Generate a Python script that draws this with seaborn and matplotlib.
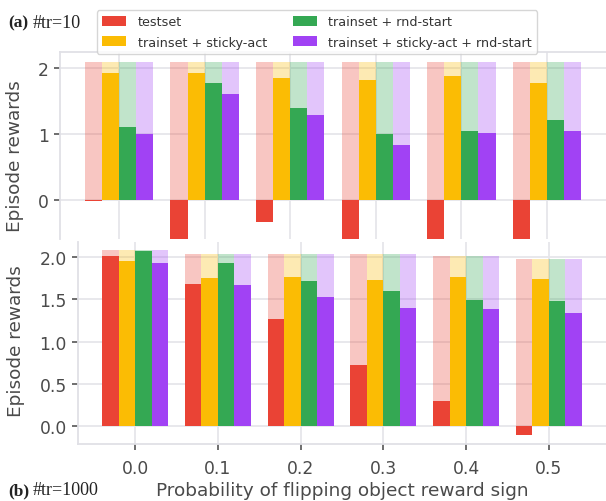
import numpy as np
import pandas as pd
import matplotlib
matplotlib.use("Agg")
import matplotlib.pyplot as plt
import seaborn as sns

probs = ["0.0", "0.1", "0.2", "0.3", "0.4", "0.5"]
methods = ["testset", "trainset + sticky-act", "trainset + rnd-start",
           "trainset + sticky-act + rnd-start"]
colors = ["#EA4335", "#FBBC04", "#34A853", "#A142F4"]

# (a) #tr=10
top_testset = [-0.01, -0.90, -0.33, -0.90, -0.90, -0.90]
top_sticky = [1.92, 1.92, 1.85, 1.82, 1.88, 1.77]
top_rnd = [1.11, 1.77, 1.39, 1.00, 1.05, 1.21]
top_both = [1.00, 1.61, 1.29, 0.83, 1.02, 1.05]
top_ref = [2.09, 2.09, 2.09, 2.09, 2.09, 2.09]

# (b) #tr=1000
bot_testset = [2.02, 1.68, 1.27, 0.72, 0.30, -0.11]
bot_sticky = [1.96, 1.75, 1.76, 1.73, 1.76, 1.74]
bot_rnd = [2.07, 1.93, 1.72, 1.60, 1.49, 1.48]
bot_both = [1.93, 1.67, 1.53, 1.40, 1.39, 1.34]
bot_ref = [2.09, 2.04, 2.04, 2.04, 2.02, 1.98]


def long_form(series, ref):
    rows = []
    for m, vals in zip(methods, series):
        for p, v, r in zip(probs, vals, ref):
            rows.append({"p": p, "method": m, "value": v, "ref": r})
    return pd.DataFrame(rows)


df_top = long_form([top_testset, top_sticky, top_rnd, top_both], top_ref)
df_bot = long_form([bot_testset, bot_sticky, bot_rnd, bot_both], bot_ref)

sns.set_theme(style="whitegrid")
plt.rcParams["font.family"] = ["DejaVu Sans"]
grid_c = "#E6E6EB"
text_c = "#4a4a4a"
plt.rcParams.update({
    "grid.color": grid_c,
    "grid.linewidth": 1.3,
    "axes.edgecolor": "#E0E0E6",
    "axes.linewidth": 1.3,
    "xtick.color": text_c,
    "ytick.color": text_c,
    "xtick.labelcolor": text_c,
    "ytick.labelcolor": text_c,
    "axes.labelcolor": text_c,
})

W, H = 606, 502
fig = plt.figure(figsize=(W / 100, H / 100), dpi=100)
ax_top = fig.add_axes([60 / W, 1 - 240 / H, 1 - 60 / W, (240 - 53) / H])
ax_bot = fig.add_axes([78 / W, 1 - 445 / H, 1 - 78 / W, (445 - 243) / H])

for ax, df, leg in [(ax_top, df_top, True), (ax_bot, df_bot, False)]:
    sns.barplot(data=df, x="p", y="ref", hue="method", order=probs,
                hue_order=methods, palette=colors, saturation=1, alpha=0.3,
                linewidth=0, errorbar=None, ax=ax, legend=False)
    sns.barplot(data=df, x="p", y="value", hue="method", order=probs,
                hue_order=methods, palette=colors, saturation=1,
                linewidth=0, errorbar=None, ax=ax, legend=leg)
    ax.set_xlim(-0.69, 5.69)
    ax.tick_params(axis="y", which="major", left=True, length=4, width=1.2,
                   labelsize=12.3, pad=4, color="#555555")
    ax.set_ylabel("Episode rewards", fontsize=13.3)
    ax.grid(True, axis="both")

handles, labels = ax_top.get_legend_handles_labels()
ax_top.get_legend().remove()

# top panel
ax_top.set_ylim(-0.59, 2.24)
ax_top.set_yticks([0, 1, 2])
ax_top.set_yticklabels(["0", "1", "2"])
ax_top.set_xlabel("")
ax_top.tick_params(axis="x", bottom=False, labelbottom=False)
for s in ["bottom", "right"]:
    ax_top.spines[s].set_visible(False)
ax_top.spines["top"].set_visible(True)
ax_top.spines["left"].set_visible(True)
ax_top.yaxis.set_label_coords(-0.066, 0.449)

# bottom panel
ax_bot.set_ylim(-0.213, 2.18)
ax_bot.set_yticks([0.0, 0.5, 1.0, 1.5, 2.0])
ax_bot.set_yticklabels(["0.0", "0.5", "1.0", "1.5", "2.0"])
ax_bot.tick_params(axis="x", bottom=True, length=4, width=1.2,
                   labelsize=12.3, pad=6.5, color="#555555")
ax_bot.set_xlabel("Probability of flipping object reward sign", fontsize=13.3,
                  labelpad=3)
for s in ["top", "right"]:
    ax_bot.spines[s].set_visible(False)
ax_bot.spines["left"].set_visible(True)
ax_bot.spines["bottom"].set_visible(True)
ax_bot.yaxis.set_label_coords(-0.100, 0.512)

fig.legend(handles, labels, ncol=2, loc="upper center",
           bbox_to_anchor=(317 / W, 1 - 5 / H), fontsize=9.2,
           frameon=True, edgecolor="#cccccc", fancybox=True,
           handlelength=1.9, handleheight=0.8, handletextpad=0.9,
           columnspacing=2.0, labelspacing=0.55, borderpad=0.4,
           labelcolor="#333333")

serif = ["Liberation Serif", "DejaVu Serif"]
fig.text(8 / W, 1 - 23 / H, "(a)", fontsize=12.5, va="center",
         ha="left", color="#222222", family=serif, fontweight="bold")
fig.text(33 / W, 1 - 23 / H, "#tr=10", fontsize=13, va="center",
         ha="left", color="#222222", family=serif)
fig.text(8 / W, 1 - 491 / H, "(b)", fontsize=12.5, va="center", ha="left",
         color="#222222", family=serif, fontweight="bold")
fig.text(33 / W, 1 - 491 / H, "#tr=1000", fontsize=13, va="center",
         ha="left", color="#222222", family=serif)

fig.savefig("out.png", dpi=100)
